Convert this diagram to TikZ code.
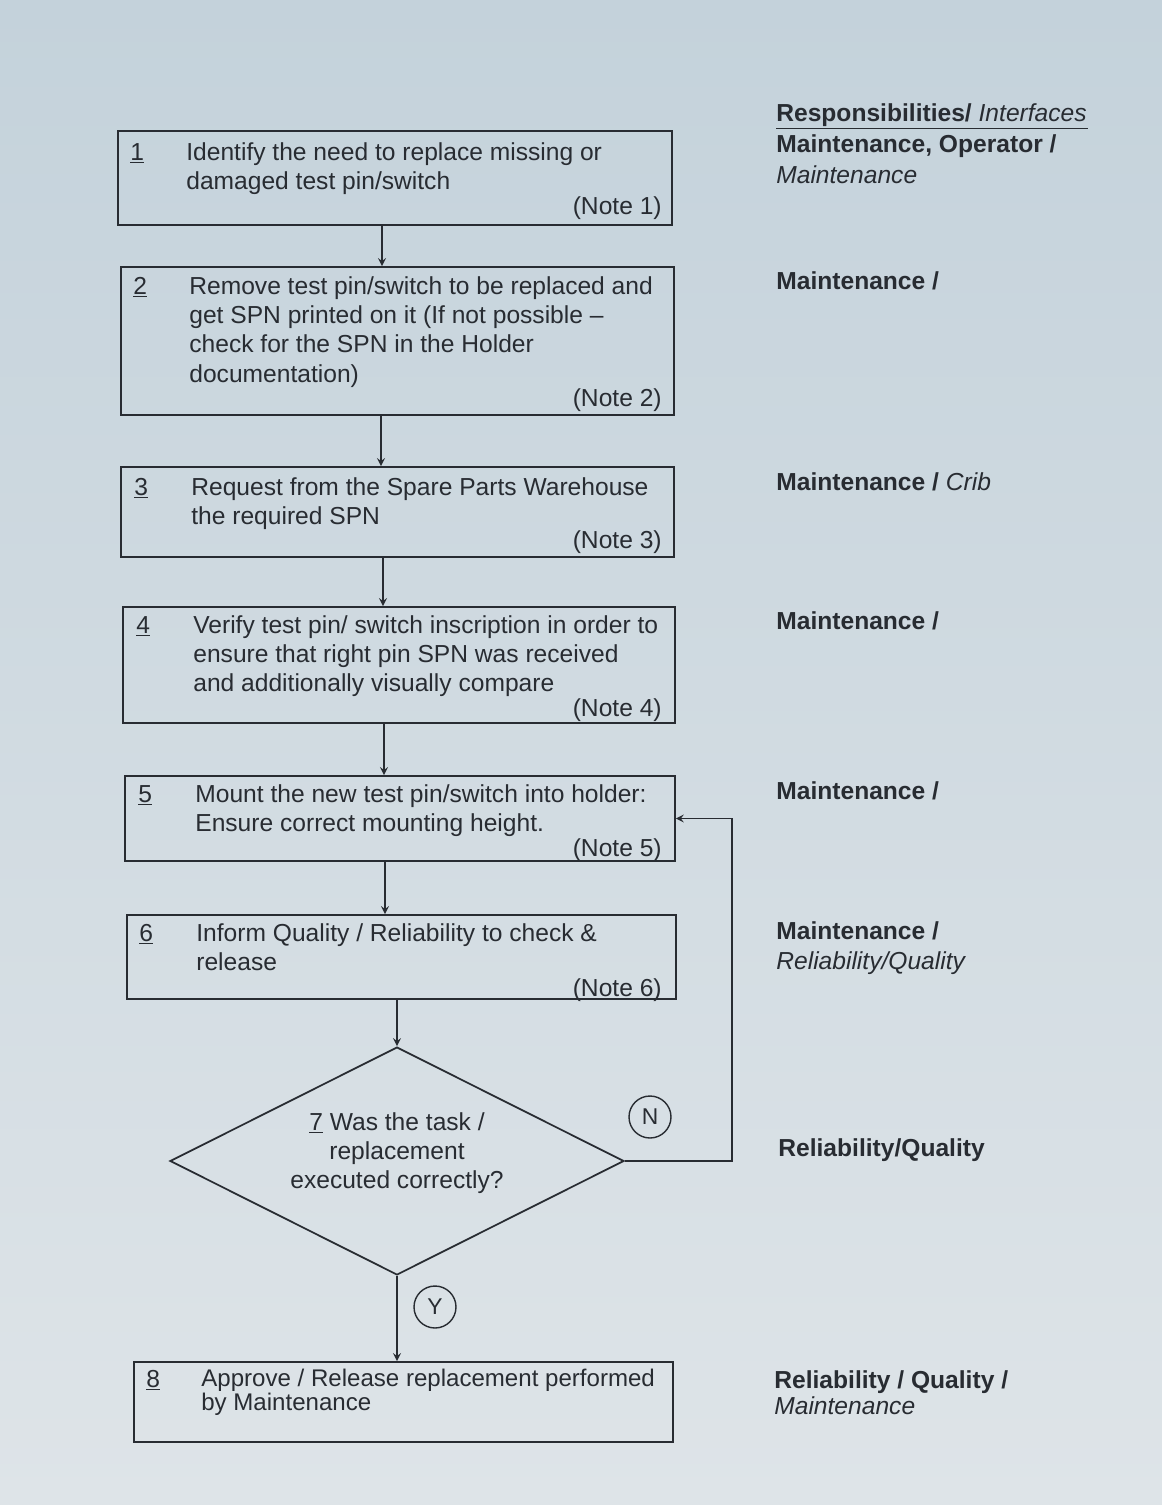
\documentclass[tikz,border=0pt]{standalone}
\usepackage{fontspec}
\setmainfont{Liberation Sans}
\usepackage{tikz}
\usetikzlibrary{shapes.geometric}
\definecolor{ink}{RGB}{40,44,50}
\definecolor{papertop}{RGB}{196,210,219}
\definecolor{paperbot}{RGB}{222,228,232}

\begin{document}
\begin{tikzpicture}[x=0.02cm,y=-0.02cm]
\tikzstyle{every node}+=[inner sep=0pt, text=ink, font=\fontsize{14}{16.7}\selectfont]
\tikzstyle{box}=[draw=ink, line width=1pt, rectangle]
\tikzstyle{flow}=[draw=ink, line width=1pt, -stealth]
\tikzstyle{stepno}=[anchor=base west]
\tikzstyle{steptext}=[anchor=north west, align=left]
\tikzstyle{note}=[anchor=base east]
\tikzstyle{resp}=[anchor=base west, font=\fontsize{14}{16.7}\selectfont\bfseries]
\tikzstyle{answer}=[draw=ink, circle, line width=0.8pt, minimum size=0.84cm, font=\fontsize{13}{13}\selectfont]
% paper
\shade [top color=papertop, bottom color=paperbot] (0,0) rectangle (1162,1505);
\useasboundingbox (0,0) rectangle (1162,1505);
% process steps
\node [box, minimum width=11.08cm, minimum height=1.88cm] (b1) at (395,178) {};
\node [box, minimum width=11.06cm, minimum height=2.96cm] (b2) at (397.5,341) {};
\node [box, minimum width=11.06cm, minimum height=1.8cm] (b3) at (397.5,512) {};
\node [box, minimum width=11.04cm, minimum height=2.32cm] (b4) at (399,665) {};
\node [box, minimum width=11.0cm, minimum height=1.7cm] (b5) at (400,818.5) {};
\node [box, minimum width=10.98cm, minimum height=1.68cm] (b6) at (401.5,957) {};
\node [draw=ink, line width=1pt, diamond, minimum width=9.08cm, minimum height=4.56cm] (q7d) at (397,1161) {};
\node [box, minimum width=10.78cm, minimum height=1.6cm] (b8) at (403.5,1402) {};
% step numbers
\node [stepno] (n1) at (130,160) {\underline{1}};
\node [stepno] (n2) at (133,294) {\underline{2}};
\node [stepno] (n3) at (134,495) {\underline{3}};
\node [stepno] (n4) at (136,633) {\underline{4}};
\node [stepno] (n5) at (138,802) {\underline{5}};
\node [stepno] (n6) at (139,941) {\underline{6}};
\node [stepno] (n8) at (146,1387) {\underline{8}};
% step texts
\node [steptext] (t1) at (186,142) {Identify the need to replace missing or\\damaged test pin/switch};
\node [steptext] (t2) at (189,276) {Remove test pin/switch to be replaced and\\get SPN printed on it (If not possible --\\check for the SPN in the Holder\\documentation)};
\node [steptext] (t3) at (191,477) {Request from the Spare Parts Warehouse\\the required SPN};
\node [steptext] (t4) at (193,615) {Verify test pin/ switch inscription in order to\\ensure that right pin SPN was received\\and additionally visually compare};
\node [steptext] (t5) at (195,784) {Mount the new test pin/switch into holder:\\Ensure correct mounting height.};
\node [steptext] (t6) at (196,923) {Inform Quality / Reliability to check \&\\release};
\node [steptext, font=\fontsize{13.7}{13.6}\selectfont] (t8) at (201,1369) {Approve / Release replacement performed\\by Maintenance};
\node [anchor=north, align=center] (q7) at (397,1112) {\underline{7} Was the task /\\replacement\\executed correctly?};
% notes
\node [note] (m1) at (662,214) {(Note 1)};
\node [note] (m2) at (662,406) {(Note 2)};
\node [note] (m3) at (662,548) {(Note 3)};
\node [note] (m4) at (662,716) {(Note 4)};
\node [note] (m5) at (662,856) {(Note 5)};
\node [note] (m6) at (662,996) {(Note 6)};
% connectors
\draw [flow] ([xshift=-0.26cm]b1.south) -- ([xshift=-0.26cm]b1.south |- b2.north);
\draw [flow] ([xshift=-0.33cm]b2.south) -- ([xshift=-0.33cm]b2.south |- b3.north);
\draw [flow] ([xshift=-0.29cm]b3.south) -- ([xshift=-0.29cm]b3.south |- b4.north);
\draw [flow] ([xshift=-0.3cm]b4.south) -- ([xshift=-0.3cm]b4.south |- b5.north);
\draw [flow] ([xshift=-0.3cm]b5.south) -- ([xshift=-0.3cm]b5.south |- b6.north);
\draw [flow] (b6.south -| q7d.north) -- (q7d.north);
\draw [flow] (q7d.south) -- (q7d.south |- b8.north);
\draw [flow] (q7d.east) -- ++(107,0) |- (b5.east);
\node [answer] (no) at (650,1117) {N};
\node [answer] (yes) at (435,1307) {Y};
% responsibilities
\node [resp] (r0) at (776,121) {\underline{Responsibilities/ {\mdseries\itshape Interfaces}\kern1pt}};
\node [resp] (r1) at (776,152) {Maintenance, Operator /};
\node [resp, font=\fontsize{14}{16.7}\selectfont\itshape] (r1i) at (776,183) {Maintenance};
\node [resp] (r2) at (776,289) {Maintenance /};
\node [resp] (r3) at (776,490) {Maintenance / {\mdseries\itshape Crib}};
\node [resp] (r4) at (776,629) {Maintenance /};
\node [resp] (r5) at (776,799) {Maintenance /};
\node [resp] (r6) at (776,939) {Maintenance /};
\node [resp, font=\fontsize{14}{16.7}\selectfont\itshape] (r6i) at (776,969) {Reliability/Quality};
\node [resp] (r7) at (778,1156) {Reliability/Quality};
\node [resp] (r8) at (774,1388) {Reliability / Quality /};
\node [resp, font=\fontsize{14}{16.7}\selectfont\itshape] (r8i) at (774,1414) {Maintenance};
\end{tikzpicture}
\end{document}
